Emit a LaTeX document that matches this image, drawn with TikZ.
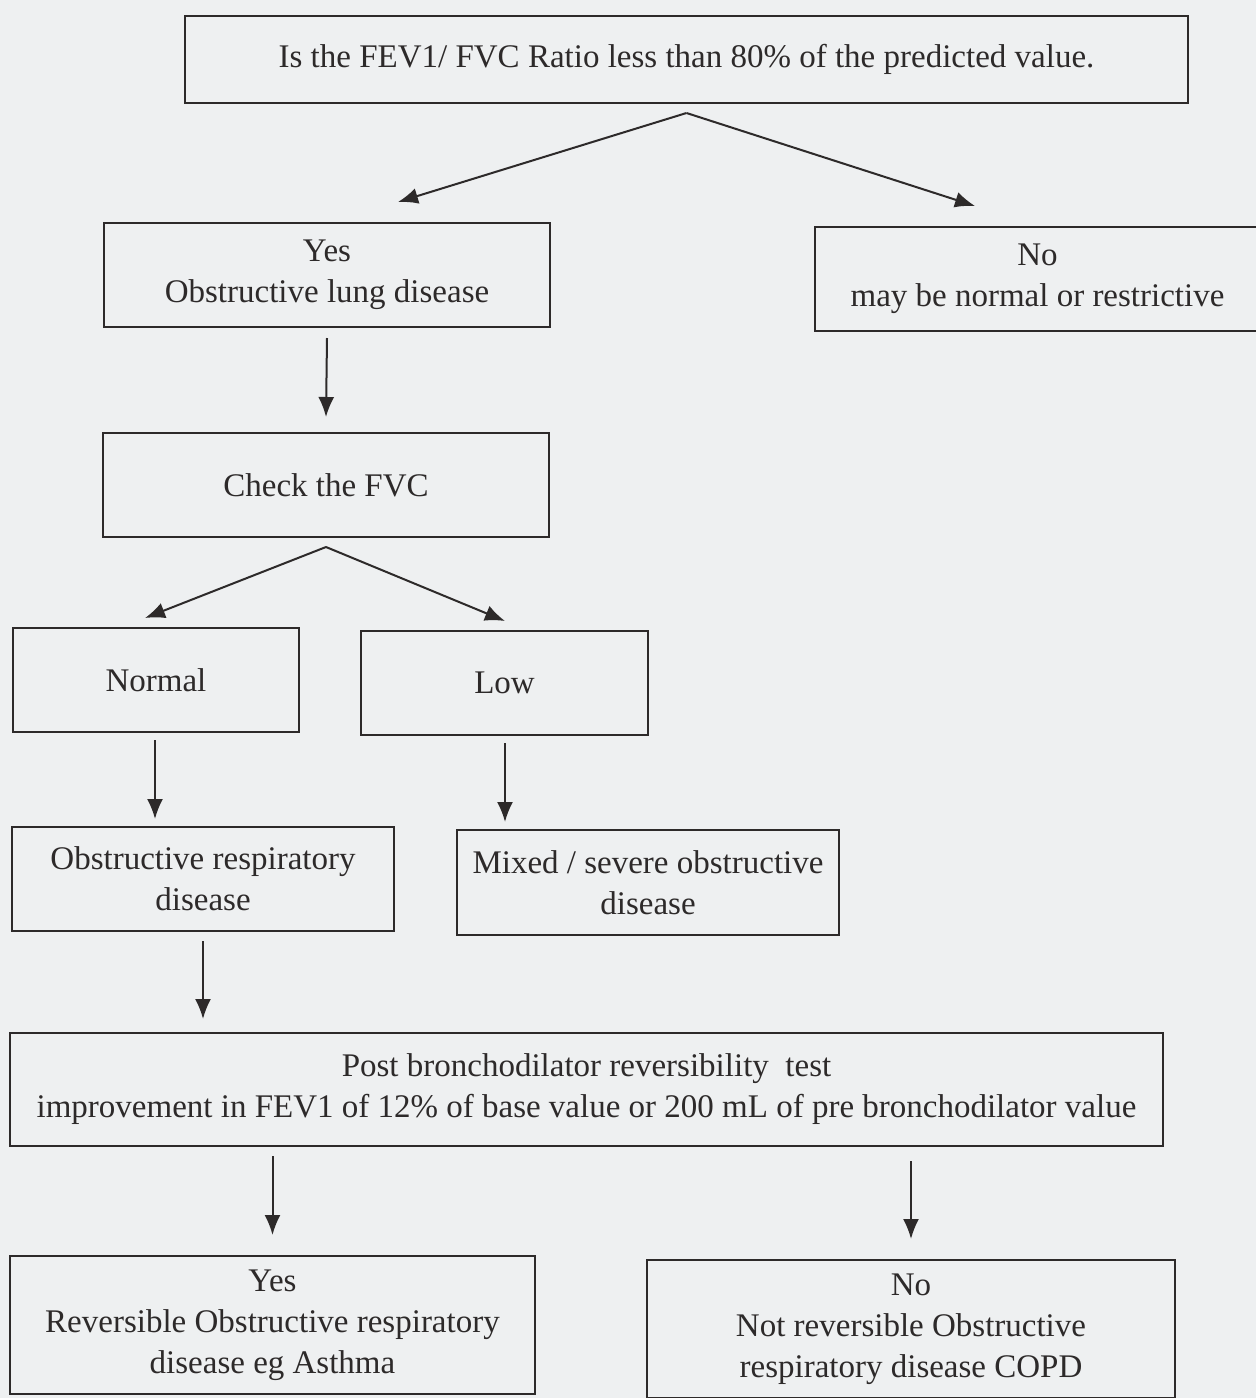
\documentclass[tikz,border=0pt]{standalone}
\usepackage{fontspec}
\setmainfont{Liberation Serif}
\usetikzlibrary{arrows.meta,calc}
\definecolor{bg}{RGB}{238,240,241}
\definecolor{ink}{RGB}{45,42,42}
\begin{document}
\begin{tikzpicture}[x=1pt,y=-1pt,
  box/.style={draw=ink,line width=2pt,rectangle,inner sep=0pt,align=center,text=ink,
    font=\fontsize{33}{41}\selectfont},
  arr/.style={draw=ink,line width=2pt,-{Latex[length=20pt,width=16pt]}}]
\fill[bg] (0,0) rectangle (1256,1398);
\useasboundingbox (0,0) rectangle (1256,1398);
% nodes
\node[box,minimum width=1003pt,minimum height=87pt] (top) at (686.5,59.5) {Is the FEV1/ FVC Ratio less than 80\% of the predicted value.};
\node[box,minimum width=446pt,minimum height=104pt] (yes) at (327,275) {Yes\\Obstructive lung disease};
\node[box,minimum width=445pt,minimum height=104pt] (no) at (1037.5,279) {No\\may be normal or restrictive};
\node[box,minimum width=446pt,minimum height=104pt] (fvc) at (326,485) {Check the FVC};
\node[box,minimum width=286pt,minimum height=104pt] (normal) at (156,680) {Normal};
\node[box,minimum width=287pt,minimum height=104pt] (low) at (504.5,683) {Low};
\node[box,minimum width=382pt,minimum height=104pt] (ord) at (203,879) {Obstructive respiratory\\disease};
\node[box,minimum width=382pt,minimum height=105pt] (mix) at (648,882.5) {Mixed / severe obstructive\\disease};
\node[box,minimum width=1153pt,minimum height=113pt] (post) at (586.5,1089.5) {Post bronchodilator reversibility\ \ test\\improvement in FEV1 of 12\% of base value or 200 mL of pre bronchodilator value};
\node[box,minimum width=525pt,minimum height=138pt] (rev) at (272.5,1325) {Yes\\Reversible Obstructive respiratory\\disease eg Asthma};
\node[box,minimum width=528pt,minimum height=138pt] (copd) at (911,1329) {No\\Not reversible Obstructive\\respiratory disease COPD};
% connectors
\draw[arr] ([yshift=-9pt]top.south) -- ([xshift=71pt,yshift=20pt]yes.north);
\draw[arr] ([yshift=-9pt]top.south) -- ([xshift=-62.5pt,yshift=20pt]no.north);
\draw[arr] ([yshift=-10pt]yes.south) -- ([yshift=15pt]fvc.north);
\draw[arr] ([yshift=-9pt]fvc.south) -- ([xshift=-11pt,yshift=9pt]normal.north);
\draw[arr] ([yshift=-9pt]fvc.south) -- ([xshift=0.5pt,yshift=9pt]low.north);
\draw[arr] ([xshift=-1pt,yshift=-7pt]normal.south) -- ([xshift=-48pt,yshift=7pt]ord.north);
\draw[arr] ([xshift=0.5pt,yshift=-7pt]low.south) -- ([xshift=-143pt,yshift=7pt]mix.north);
\draw[arr] ($(ord.south)+(0,9)$) -- ($(ord.south |- post.north)+(0,-13)$);
\draw[arr] ($(rev.north |- post.south)+(0,9)$) -- ($(rev.north)+(0,-20)$);
\draw[arr] ($(copd.north |- post.south)+(0,14)$) -- ($(copd.north)+(0,-20)$);
\end{tikzpicture}
\end{document}
